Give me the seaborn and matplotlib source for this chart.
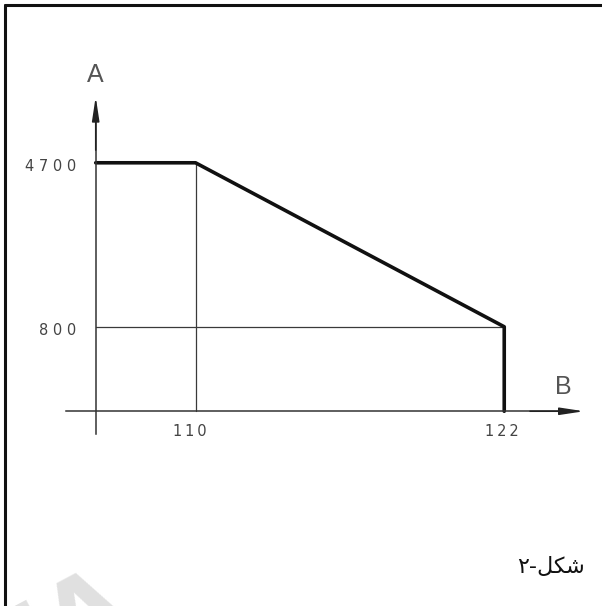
import matplotlib
matplotlib.use("Agg")
import matplotlib.pyplot as plt
import matplotlib.transforms as mtransforms
import seaborn as sns
import pandas as pd
from matplotlib.lines import Line2D

sns.set_style("white")
plt.rcParams["font.family"] = ["DejaVu Sans"]

# data
b_breaks = [110, 122]          # B values of the two corners
a_levels = [4700, 800]         # A values of the two levels
b_ticklabels = ["1\u20091\u20090", "1\u20092\u20092"]
a_ticklabels = ["4 7 0 0", "8 0 0"]
caption = "\u06f2-\ufede\ufb91\ufeb7"   # "شکل-۲" in visual order

# where the two axes cross (schematic, not zero)
x0 = 106.12
y0 = -1209

curve = pd.DataFrame({
    "B": [x0, b_breaks[0], b_breaks[1], b_breaks[1]],
    "A": [a_levels[0], a_levels[0], a_levels[1], y0],
})

fig = plt.figure(figsize=(6.02, 6.06), dpi=100)
ax = fig.add_axes([0, 0, 1, 1])
ax.set_xlim(102.40, 125.80)
ax.set_ylim(-5840, 8571)

# thin guide lines
sns.lineplot(x=[b_breaks[0], b_breaks[0]], y=[a_levels[0], y0], sort=False,
             estimator=None, color="#3a3a3a", lw=0.9, ax=ax)
sns.lineplot(x=[x0, b_breaks[1]], y=[a_levels[1], a_levels[1]], sort=False,
             estimator=None, color="#3a3a3a", lw=0.9, ax=ax)

# thick curve
sns.lineplot(data=curve, x="B", y="A", sort=False, estimator=None,
             color="#111111", lw=2.6, ax=ax)

# axes through the crossing point
for side in ["top", "right"]:
    ax.spines[side].set_visible(False)
ax.spines["left"].set_position(("data", x0))
ax.spines["bottom"].set_position(("data", y0))
ax.spines["left"].set_bounds(-1749, 6000)
ax.spines["bottom"].set_bounds(104.97, 124.5)
for side in ["left", "bottom"]:
    ax.spines[side].set_color("#333333")
    ax.spines[side].set_linewidth(1.1)

arrow = dict(arrowstyle="-|>,head_length=1.45,head_width=0.22", lw=1.1,
             color="#222222", shrinkA=0, shrinkB=0)
ax.annotate("", xy=(x0, 6272), xytext=(x0, 5000), arrowprops=arrow)
ax.annotate("", xy=(125.10, y0), xytext=(123.0, y0), arrowprops=arrow)

ax.set_xticks(b_breaks)
ax.set_xticklabels(b_ticklabels)
ax.set_yticks(a_levels)
ax.set_yticklabels(a_ticklabels)
ax.tick_params(axis="both", length=0, labelsize=10.5, labelcolor="#444444")
ax.tick_params(axis="x", pad=9)
ax.tick_params(axis="y", pad=14)
ax.set_xlabel("")
ax.set_ylabel("")

# the B tick labels sit a little left of their lines
for lab, dx in zip(ax.get_xticklabels(), [-6, -2]):
    lab.set_transform(lab.get_transform() +
                      mtransforms.ScaledTranslation(dx / 100, 0, fig.dpi_scale_trans))
for lab in ax.get_yticklabels():
    lab.set_transform(lab.get_transform() +
                      mtransforms.ScaledTranslation(0, -2 / 100, fig.dpi_scale_trans))

ax.text(x0, 6788, "A", ha="center", va="center", fontsize=18,
        color="#555555", family="Liberation Sans")
ax.text(124.28, -632, "B", ha="center", va="center", fontsize=18,
        color="#555555", family="Liberation Sans")

# page frame
fig.add_artist(Line2D([5 / 602, 1], [1 - 5 / 606, 1 - 5 / 606],
                      transform=fig.transFigure, color="#111111", lw=2.2))
fig.add_artist(Line2D([5 / 602, 5 / 602], [0, 1 - 5 / 606],
                      transform=fig.transFigure, color="#111111", lw=2.2))

# watermark fragment
fig.text(-0.09, -0.15, "MA", fontsize=70, fontweight="bold", color="#e0e0e0",
         rotation=28, family="DejaVu Sans", zorder=0)

fig.text(0.916, 0.064, caption, ha="center", va="center", fontsize=16,
         family="DejaVu Sans", color="#111111")

fig.savefig("out.png", dpi=100)
